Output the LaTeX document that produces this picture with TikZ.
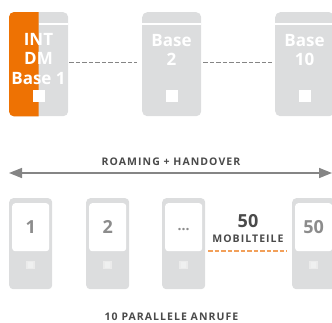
\documentclass[tikz,border=0pt]{standalone}
\usepackage{fontspec}
\setmainfont{Open Sans}
\usetikzlibrary{arrows.meta}
\definecolor{boxgray}{HTML}{DCDDDE}
\definecolor{orng}{HTML}{EE7203}
\definecolor{lorng}{HTML}{F2A05A}
\definecolor{txtgray}{HTML}{8C8C8C}
\definecolor{dark}{HTML}{4A4A4A}
\definecolor{arrgray}{HTML}{858585}
\begin{document}
\begin{tikzpicture}[x=1pt,y=-1pt,
 base/.style={fill=boxgray, rounded corners=5pt, minimum width=59pt, minimum height=104pt, inner sep=0pt, anchor=north west},
 hand/.style={fill=boxgray, rounded corners=4pt, minimum width=43pt, minimum height=91pt, inner sep=0pt, anchor=north west},
 screen/.style={fill=white, rounded corners=3pt, minimum width=37pt, minimum height=48pt, inner sep=0pt, anchor=north},
 btn/.style={fill=white, minimum size=12pt, inner sep=0pt},
 hbtn/.style={draw=white!92!black, fill=boxgray!45, line width=1.2pt, minimum size=7pt, inner sep=0pt},
 sep/.style={draw=white, line width=1.5pt},
 basetxt/.style={text=white, font=\fontsize{17}{19.5}\selectfont\bfseries, align=center, anchor=north, inner sep=0pt},
 numtxt/.style={text=txtgray, font=\fontsize{18}{20}\selectfont\bfseries, inner sep=0pt},
 captxt/.style={text=dark, font=\fontsize{10.5}{12}\selectfont\bfseries\addfontfeature{LetterSpace=10}, inner sep=0pt},
 link/.style={draw=arrgray, line width=1.2pt, dash pattern=on 4.5pt off 2pt},
 olink/.style={draw=lorng, line width=1.2pt, dash pattern=on 4.5pt off 2pt},
]
\useasboundingbox (0,0) rectangle (332,322);
\clip (0,0) rectangle (332,322);
% bases
\node[base] (b1) at (9,12) {};
\begin{scope}
\clip (b1.north west) rectangle (b1.south);
\fill[orng, rounded corners=5pt] (b1.north west) rectangle (b1.south east);
\end{scope}
\node[base] (b2) at (142,12) {};
\node[base] (b10) at (275,12) {};
\draw[sep] ([yshift=-12pt]b1.north) -- ([yshift=-12pt]b1.north east);
\draw[sep] ([yshift=-12pt]b2.north west) -- ([yshift=-12pt]b2.north east);
\draw[sep] ([yshift=-12pt]b10.north west) -- ([yshift=-12pt]b10.north east);
\node[basetxt] (t1) at (38.5,33) {INT\\DM\\Base 1};
\node[basetxt] (t2) at (171.5,34) {Base\\2};
\node[basetxt] (t10) at (304.5,34) {Base\\10};
\node[btn] (s1) at (38.5,95.5) {};
\node[btn] (s2) at (171.5,95.5) {};
\node[btn] (s10) at (304.5,95.5) {};
\draw[link] ([xshift=1pt,yshift=2pt]b1.east) -- ([xshift=-5pt,yshift=2pt]b2.west);
\draw[link] ([xshift=2pt,yshift=2pt]b2.east) -- ([xshift=-3pt,yshift=2pt]b10.west);
% arrow
\coordinate (aL) at (9,173);
\coordinate (aR) at (332,173);
\draw[arrgray, line width=1.5pt, {Triangle[length=13pt,width=10pt]}-{Triangle[length=13pt,width=10pt]}] (aL) -- (aR);
\node[captxt] (roam) at (171,162) {ROAMING + HANDOVER};
% handsets
\foreach \n/\x in {1/9, 2/86, 3/162, 4/292} {
  \node[hand] (h\n) at (\x,198) {};
  \node[screen] (sc\n) at ([yshift=-5pt]h\n.north) {};
  \node[hbtn] (hb\n) at (\x+21.5,265) {};
}
\node[numtxt] (n1) at (sc1.center) {1};
\node[numtxt] (n2) at (sc2.center) {2};
\node[numtxt, font=\fontsize{14}{16}\selectfont\bfseries] (n3) at ([yshift=-2pt]sc3.center) {...};
\node[numtxt] (n4) at (sc4.center) {50};
\node[text=dark, font=\fontsize{18}{20}\selectfont\bfseries, inner sep=0pt] (fifty) at (248,221) {50};
\node[captxt] (mob) at (248,239) {MOBILTEILE};
\coordinate (o1) at (208,251);
\coordinate (o2) at (287,251);
\draw[olink] (o1) -- (o2);
\node[captxt] (par) at (171.5,317) {10 PARALLELE ANRUFE};
\end{tikzpicture}
\end{document}
